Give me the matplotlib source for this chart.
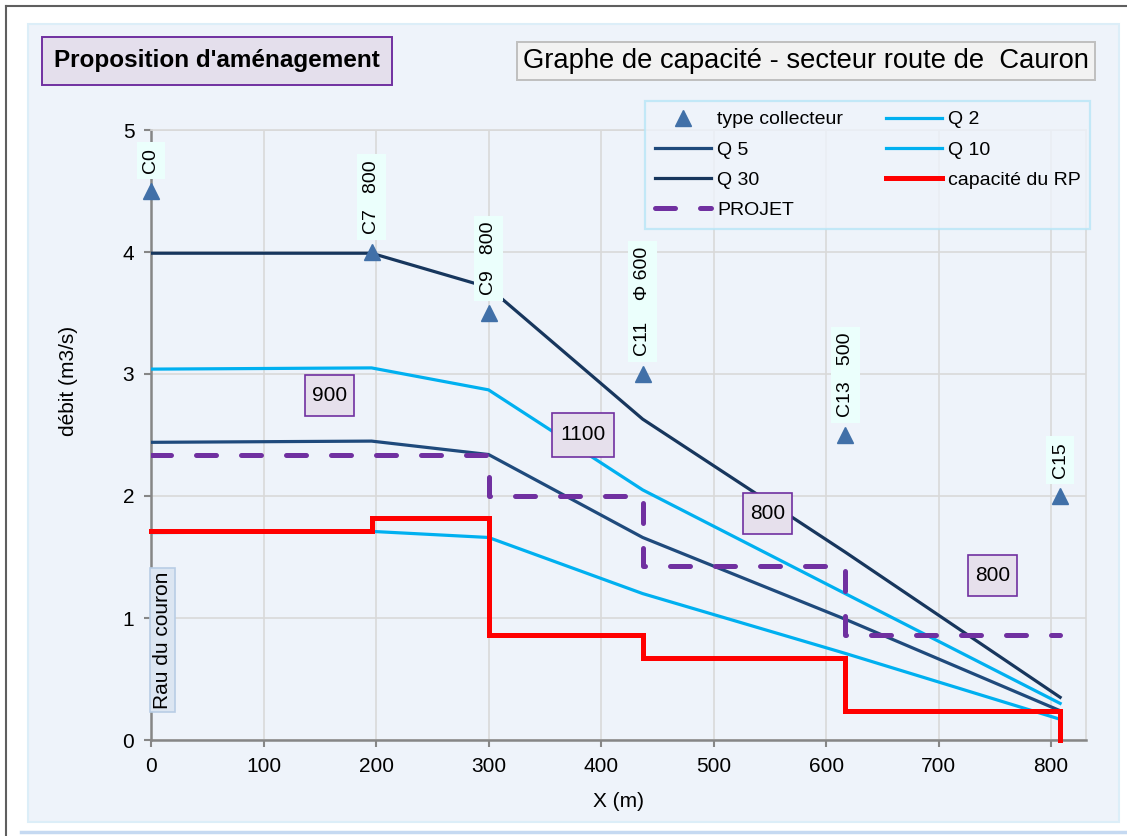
import matplotlib
matplotlib.use("Agg")
import matplotlib.pyplot as plt
from matplotlib.patches import Rectangle
from matplotlib.lines import Line2D

plt.rcParams['font.family'] = ['Liberation Sans', 'DejaVu Sans']

# ---- data -------------------------------------------------------------
nodes_x = [0, 196, 300, 437, 617, 808]          # position des regards (m)
node_y = [4.5, 4.0, 3.5, 3.0, 2.5, 2.0]         # hauteur d'affichage des repères
node_labels = ["C0", "C7   800", "C9   800", "C11    Φ 600", "C13   500", "C15"]

q2 = [1.70, 1.71, 1.66, 1.20, 0.71, 0.17]
q5 = [2.44, 2.45, 2.34, 1.66, 0.99, 0.24]
q10 = [3.04, 3.05, 2.87, 2.05, 1.20, 0.30]
q30 = [3.99, 3.99, 3.71, 2.63, 1.54, 0.35]

capacite = [1.71, 1.82, 0.86, 0.67, 0.24]       # capacité du réseau pluvial par tronçon
projet = [2.34, 2.00, 1.43, 0.86]               # capacité projetée
projet_x = [0, 300, 437, 617, 808]

diam_labels = ["900", "1100", "800", "800"]
diam_x = [159, 384, 548, 748]
diam_y = [2.82, 2.50, 1.86, 1.35]

# ---- figure -----------------------------------------------------------
W, H = 1127, 836
DPI = 100
fig = plt.figure(figsize=(W / DPI, H / DPI), dpi=DPI)
fig.patch.set_facecolor('white')

def fx(px):
    return px / W

def fy(py):
    return 1 - py / H

bg = '#EEF3FA'
fig.patches.append(Rectangle((fx(28), fy(822)), fx(1119) - fx(28), fy(24) - fy(822),
                             transform=fig.transFigure, facecolor=bg,
                             edgecolor='#DCEEF8', linewidth=1.5, zorder=-10))
fig.lines.append(Line2D([fx(6), fx(1127)], [fy(6), fy(6)], transform=fig.transFigure,
                        color='#5F5F5F', linewidth=1.5))
fig.lines.append(Line2D([fx(6), fx(6)], [fy(6), fy(836)], transform=fig.transFigure,
                        color='#5F5F5F', linewidth=1.5))
fig.lines.append(Line2D([fx(21), fx(1127)], [fy(832), fy(832)], transform=fig.transFigure,
                        color='#C5D9F1', linewidth=2.5))

ax = fig.add_axes([fx(151), fy(740), fx(1086) - fx(151), fy(130) - fy(740)])
ax.set_facecolor(bg)
ax.set_xlim(0, 831)
ax.set_ylim(0, 5)
ax.set_xticks(range(0, 801, 100))
ax.set_yticks(range(0, 6))
ax.grid(True, color='#D9D9D9', linewidth=1.2, zorder=0)
ax.set_axisbelow(True)
for s in ['top', 'right']:
    ax.spines[s].set_color('#D9D9D9')
    ax.spines[s].set_linewidth(1.2)
for s in ['left', 'bottom']:
    ax.spines[s].set_color('#868686')
    ax.spines[s].set_linewidth(1.8)
ax.tick_params(direction='out', length=5, width=1.5, color='#868686',
               labelsize=15, pad=7)

ax.set_xlabel('X (m)', fontsize=15, labelpad=12)
ax.set_ylabel('débit (m3/s)', fontsize=15)
ax.yaxis.set_label_coords(-0.078, 0.589)

# pixels per data unit (axes position and limits are fixed above)
p0 = ax.transData.transform((0, 0))
p1 = ax.transData.transform((1, 1))
px_per_x = p1[0] - p0[0]
px_per_y = p1[1] - p0[1]

# ---- series -----------------------------------------------------------
dark5 = '#1F4A7C'
dark30 = '#17365D'
light = '#00B0F0'
red = '#FF0000'
purple = '#7030A0'
mk = '#4170A8'

h_mk, = ax.plot(nodes_x, node_y, linestyle='none', marker='^', markersize=11,
                color=mk, clip_on=False, zorder=6, label='type collecteur')
h_q2, = ax.plot(nodes_x, q2, color=light, lw=2.3, zorder=3, label='Q 2')
h_q5, = ax.plot(nodes_x, q5, color=dark5, lw=2.3, zorder=3, label='Q 5')
h_q10, = ax.plot(nodes_x, q10, color=light, lw=2.3, zorder=3, label='Q 10')
h_q30, = ax.plot(nodes_x, q30, color=dark30, lw=2.3, zorder=3, label='Q 30')
h_cap, = ax.plot(nodes_x + [nodes_x[-1]], capacite + [capacite[-1], 0],
                 drawstyle='steps-post', color=red, lw=3.6, zorder=4,
                 solid_joinstyle='miter', clip_on=False, label='capacité du RP')
h_proj, = ax.plot(projet_x, projet + [projet[-1]], drawstyle='steps-post',
                  color=purple, lw=3.6, dashes=(4, 5), dash_capstyle='round',
                  zorder=5, label='PROJET')

# collector labels above the markers
for x, y, t in zip(nodes_x, node_y, node_labels):
    ax.annotate(t, (x, y), xytext=(0, 13), textcoords='offset points',
                rotation=90, ha='center', va='bottom', fontsize=14,
                bbox=dict(boxstyle='square,pad=0.3', facecolor='#EBFFFC',
                          edgecolor='none'),
                zorder=7, annotation_clip=False)

# pipe diameter boxes, fixed size in pixels, centred on the label
for x, y, t in zip(diam_x, diam_y, diam_labels):
    wpx = 49 if len(t) == 3 else 62
    hpx = 41 if len(t) == 3 else 44
    w = wpx / px_per_x
    h = hpx / px_per_y
    ax.add_patch(Rectangle((x - w / 2, y - h / 2), w, h,
                           facecolor='#E6E0EC', edgecolor=purple, linewidth=1.2,
                           zorder=8))
    ax.text(x, y, t, ha='center', va='center', fontsize=15, zorder=9)

# outlet name
ax.text(10, 0.82, 'Rau du couron', rotation=90, ha='center', va='center',
        fontsize=15, zorder=8,
        bbox=dict(boxstyle='square,pad=0.15', facecolor='#DCE6F2',
                  edgecolor='#B9CDE5', linewidth=1.2))

# legend
leg = fig.legend(handles=[h_mk, h_q5, h_q30, h_proj, h_q2, h_q10, h_cap],
                 ncol=2, loc='upper left', bbox_to_anchor=(fx(645), fy(101)),
                 fontsize=14, handlelength=2.9, handletextpad=0.3,
                 labelspacing=0.65, borderpad=0.5, columnspacing=2.2,
                 borderaxespad=0, fancybox=False, frameon=True)
leg.get_frame().set_facecolor(bg)
leg.get_frame().set_edgecolor('#B7E6F7')
leg.get_frame().set_linewidth(1.6)

# titles
fig.text(fx(217), fy(61), "Proposition d'aménagement", ha='center', va='center',
         fontsize=17.5, fontweight='bold',
         bbox=dict(boxstyle='square,pad=0.5', facecolor='#E4DFEC',
                   edgecolor=purple, linewidth=1.4))
fig.text(fx(806), fy(61), 'Graphe de capacité - secteur route de  Cauron',
         ha='center', va='center', fontsize=19.7,
         bbox=dict(boxstyle='square,pad=0.22', facecolor='#F2F2F2',
                   edgecolor='#BFBFBF', linewidth=1.4))

fig.savefig('out.png', dpi=DPI)
